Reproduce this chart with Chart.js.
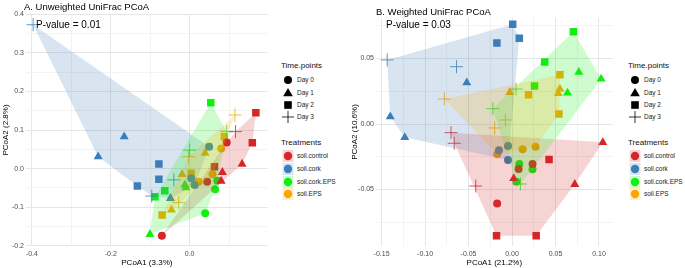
<!DOCTYPE html>
<html>
<head>
<meta charset="utf-8">
<script src="https://cdn.jsdelivr.net/npm/chart.js@4.4.1/dist/chart.umd.min.js"></script>
<style>
body { margin: 0; background: #fff; font-family: "Liberation Sans", Arial, sans-serif; }
#wrap { position: relative; width: 685px; height: 268px; overflow: hidden; }
canvas { position: absolute; top: 0; }
.t { position: absolute; white-space: nowrap; color: #000; transform: translateY(-50%); line-height: 1; }
.title { font-size: 9.5px; }
.pv { font-size: 10px; }
.lt { font-size: 8px; color: #111; }
.li { font-size: 6.5px; color: #222; }
svg.k { position: absolute; overflow: visible; }
</style>
</head>
<body>
<div id="wrap">
  <canvas id="cA" width="275" height="268" style="left:0"></canvas>
  <canvas id="cB" width="275" height="268" style="left:345px"></canvas>
</div>
<script>
const treatments = ['soil.control', 'soil.cork', 'soil.cork.EPS', 'soil.EPS'];
const timePoints = ['Day 0', 'Day 1', 'Day 2', 'Day 3'];
const colors = ['#d62728', '#3c7dba', '#11ee11', '#ffa500'];

// points as [PCoA1, PCoA2, time point index]
// A. unweighted
const unwControl = [[0.094, 0.068, 0], [0.0445, -0.034, 0], [-0.0704, -0.1735, 0],
  [0.133, 0.012, 1], [0.083, -0.0093, 1], [0.080, -0.032, 1],
  [0.168, 0.145, 2], [0.159, 0.067, 2], [0.063, 0.005, 2],
  [0.1165, 0.096, 3]];
const unwCork = [[0.0495, 0.057, 0], [0.004, -0.025, 0], [0.0126, -0.042, 0],
  [-0.166, 0.083, 1], [-0.232, 0.031, 1], [-0.0486, -0.0767, 1],
  [-0.078, 0.012, 2], [-0.078, -0.0275, 2], [-0.1325, -0.045, 2],
  [-0.397, 0.373, 3], [-0.040, -0.029, 3], [-0.096, -0.071, 3]];
const unwCorkEPS = [[0.0395, -0.1156, 0], [0.0646, -0.053, 0], [0.070, -0.031, 0],
  [-0.1006, -0.17, 1], [-0.0093, -0.049, 1], [-0.012, -0.042, 1],
  [0.0537, 0.171, 2], [-0.063, -0.057, 2], [-0.088, -0.0725, 2],
  [0.0, 0.048, 3], [0.094, 0.096, 3]];
const unwEPS = [[0.080, 0.052, 0], [0.058, -0.0145, 0], [0.0226, -0.034, 0],
  [0.0395, 0.040, 1], [-0.019, -0.0145, 1], [-0.046, -0.107, 1],
  [0.088, 0.083, 2], [0.004, -0.012, 2], [-0.0697, -0.12, 2],
  [0.115, 0.139, 3], [-0.0025, 0.031, 3], [-0.0277, -0.088, 3]];

// B. weighted
const wControl = [[-0.0171, -0.0606, 0], [0.0236, -0.0305, 0], [0.0076, -0.0344, 0],
  [0.1044, -0.014, 1], [0.002, -0.0415, 1], [0.0722, -0.046, 1],
  [0.0426, -0.027, 2], [-0.0178, -0.0852, 2], [0.0278, -0.0852, 2],
  [-0.0702, -0.0066, 3], [-0.0664, -0.0147, 3], [-0.0417, -0.0473, 3]];
const wCork = [[-0.0046, -0.0168, 0], [-0.015, -0.020, 0], [-0.0046, -0.0275, 0],
  [-0.052, 0.0315, 1], [-0.140, 0.0056, 1], [-0.1233, -0.0102, 1],
  [0.0008, 0.0761, 2], [0.0084, 0.0654, 2], [-0.0174, 0.0618, 2],
  [-0.1435, 0.0489, 3], [-0.0638, 0.0437, 3]];
const wCorkEPS = [[0.0084, -0.0305, 0], [0.0236, -0.0346, 0], [0.005, -0.044, 0],
  [0.0768, 0.0395, 1], [0.1025, 0.0344, 1], [0.0638, 0.0237, 1],
  [0.0706, 0.0705, 2], [0.0376, 0.0473, 2], [0.0259, 0.029, 2],
  [0.0046, 0.0267, 3], [-0.022, 0.0117, 3], [0.0096, -0.0458, 3]];
const wEPS = [[0.0122, -0.0193, 0], [0.027, -0.0173, 0], [-0.017, -0.023, 0],
  [-0.0026, 0.0242, 1], [0.0551, 0.0267, 1], [0.0532, 0.0234, 1],
  [0.0551, 0.0376, 2], [0.019, 0.0224, 2], [0.054, 0.0076, 2],
  [-0.0778, 0.0191, 3], [-0.0075, 0.0031, 3], [-0.020, -0.0030, 3]];

const unwXBreaks = [-0.4, -0.2, 0.0, 0.2];
const unwYBreaks = [-0.2, -0.1, 0.0, 0.1, 0.2, 0.3, 0.4];
const wXBreaks = [-0.15, -0.10, -0.05, 0.00, 0.05, 0.10];
const wYBreaks = [-0.05, 0.00, 0.05];

const shapes = ['circle', 'triangle', 'rect', 'cross'];
const sizes = [4, 5.2, 5.3, 6.5];

function rgba(hex, a) {
  const n = parseInt(hex.slice(1), 16);
  return `rgba(${n >> 16},${(n >> 8) & 255},${n & 255},${a})`;
}

function convexHull(pts) {
  const p = pts.slice().sort((a, b) => a[0] - b[0] || a[1] - b[1]);
  const cr = (o, a, b) => (a[0] - o[0]) * (b[1] - o[1]) - (a[1] - o[1]) * (b[0] - o[0]);
  const lo = [], up = [];
  for (const q of p) {
    while (lo.length >= 2 && cr(lo[lo.length - 2], lo[lo.length - 1], q) <= 0) lo.pop();
    lo.push(q);
  }
  for (const q of p.slice().reverse()) {
    while (up.length >= 2 && cr(up[up.length - 2], up[up.length - 1], q) <= 0) up.pop();
    up.push(q);
  }
  lo.pop(); up.pop();
  return lo.concat(up);
}

// hulls go on top of the points, like the ggplot original
const hullPlugin = {
  id: 'hulls',
  afterDatasetsDraw(chart) {
    const { ctx, chartArea: a, scales: { x, y } } = chart;
    ctx.save();
    ctx.beginPath();
    ctx.rect(a.left, a.top, a.right - a.left, a.bottom - a.top);
    ctx.clip();
    chart.data.datasets.forEach((ds, i) => {
      const h = convexHull(ds.data.map(p => [x.getPixelForValue(p.x), y.getPixelForValue(p.y)]));
      ctx.beginPath();
      h.forEach((p, k) => k ? ctx.lineTo(p[0], p[1]) : ctx.moveTo(p[0], p[1]));
      ctx.closePath();
      ctx.fillStyle = rgba(colors[i], 0.2);
      ctx.fill();
    });
    ctx.restore();
  }
};

function gridValues(breaks, min, max) {
  const step = breaks[1] - breaks[0];
  const vals = [];
  breaks.forEach(b => { vals.push(b); vals.push(b - step / 2); });
  vals.push(breaks[breaks.length - 1] + step / 2);
  return vals.filter(v => v >= min - 1e-9 && v <= max + 1e-9).sort((a, b) => a - b);
}
const isMajor = (breaks, v) => breaks.some(b => Math.abs(b - v) < 1e-9);

function axis(breaks, min, max, dec, title, isY, fitSize, titlePad) {
  return {
    type: 'linear', min: min, max: max,
    afterBuildTicks: s => { s.ticks = gridValues(breaks, min, max).map(v => ({ value: v })); },
    afterFit: s => { if (isY) s.width = fitSize; else s.height = fitSize; },
    ticks: {
      autoSkip: false, maxRotation: 0, color: '#4d4d4d', padding: isY ? 2 : 4,
      font: { size: 7, family: '"Liberation Sans", Arial' },
      callback: v => isMajor(breaks, v) ? v.toFixed(dec) : ''
    },
    grid: {
      drawTicks: false,
      color: c => isMajor(breaks, c.tick.value) ? '#e6e6e6' : '#f3f3f3',
      lineWidth: 1
    },
    border: { display: false },
    title: {
      display: true, text: title, color: '#000',
      font: { size: 8, family: '"Liberation Sans", Arial' },
      padding: { top: titlePad, bottom: 0 }
    }
  };
}

function makeChart(id, groups, xs, ys, top) {
  return new Chart(document.getElementById(id), {
    type: 'scatter',
    data: {
      datasets: groups.map((g, i) => ({
        label: treatments[i],
        data: g.map(p => ({ x: p[0], y: p[1], d: p[2] })),
        backgroundColor: colors[i],
        borderColor: colors[i],
        pointStyle: c => c.raw ? shapes[c.raw.d] : 'circle',
        pointRadius: c => c.raw ? sizes[c.raw.d] : 4,
        pointBorderWidth: c => (c.raw && c.raw.d === 3) ? 0.8 : 0,
        pointHoverRadius: c => c.raw ? sizes[c.raw.d] : 4
      }))
    },
    options: {
      responsive: false,
      animation: false,
      layout: { padding: { top: top, right: 5, left: 0, bottom: 0 } },
      plugins: { legend: { display: false }, tooltip: { enabled: false } },
      scales: { x: xs, y: ys }
    },
    plugins: [hullPlugin]
  });
}

makeChart('cA', [unwControl, unwCork, unwCorkEPS, unwEPS],
  axis(unwXBreaks, -0.415, 0.198, 1, 'PCoA1 (3.3%)', false, 22, 1),
  axis(unwYBreaks, -0.2003, 0.4008, 1, 'PCoA2 (2.8%)', true, 26, 1), 14);

makeChart('cB', [wControl, wCork, wCorkEPS, wEPS],
  axis(wXBreaks, -0.1564, 0.1158, 2, 'PCoA1 (21.2%)', false, 22, 1),
  axis(wYBreaks, -0.0931, 0.0809, 2, 'PCoA2 (10.6%)', true, 31, 5), 18);

// titles, p-values and legends
const wrap = document.getElementById('wrap');
function text(cls, str, left, cy) {
  const d = document.createElement('div');
  d.className = 't ' + cls;
  d.textContent = str;
  d.style.left = left + 'px';
  d.style.top = cy + 'px';
  wrap.appendChild(d);
}
function svgKey(cx, cy, inner) {
  const ns = 'http://www.w3.org/2000/svg';
  const s = document.createElementNS(ns, 'svg');
  s.setAttribute('class', 'k');
  s.setAttribute('width', 16); s.setAttribute('height', 16);
  s.style.left = (cx - 8) + 'px';
  s.style.top = (cy - 8) + 'px';
  s.innerHTML = inner;
  wrap.appendChild(s);
}
const shapeSvg = [
  '<circle cx="8" cy="8" r="4" fill="#000"/>',
  '<polygon points="8,3 12.8,11.3 3.2,11.3" fill="#000"/>',
  '<rect x="4.2" y="4.2" width="7.6" height="7.6" fill="#000"/>',
  '<path d="M2 8H14M8 2V14" stroke="#000" stroke-width="0.8"/>'
];
function legend(x0) {
  text('lt', 'Time.points', x0, 66);
  timePoints.forEach((t, i) => {
    const cy = 80.3 + i * 12.35;
    svgKey(x0 + 6.5, cy, shapeSvg[i]);
    text('li', t, x0 + 16, cy);
  });
  text('lt', 'Treatments', x0, 143);
  treatments.forEach((t, i) => {
    const cy = 156 + i * 12.75;
    svgKey(x0 + 6.5, cy, `<rect x="2.6" y="2" width="10.8" height="12" fill="${rgba(colors[i], 0.2)}"/>` +
      `<circle cx="8" cy="8" r="4.2" fill="${colors[i]}"/>`);
    text('li', t, x0 + 16, cy);
  });
}
text('title', 'A. Unweighted UniFrac PCoA', 24, 7);
text('title', 'B. Weighted UniFrac PCoA', 376, 12);
text('pv', 'P-value = 0.01', 36, 25);
text('pv', 'P-value = 0.03', 386, 25);
legend(281);
legend(628);
</script>
</body>
</html>
